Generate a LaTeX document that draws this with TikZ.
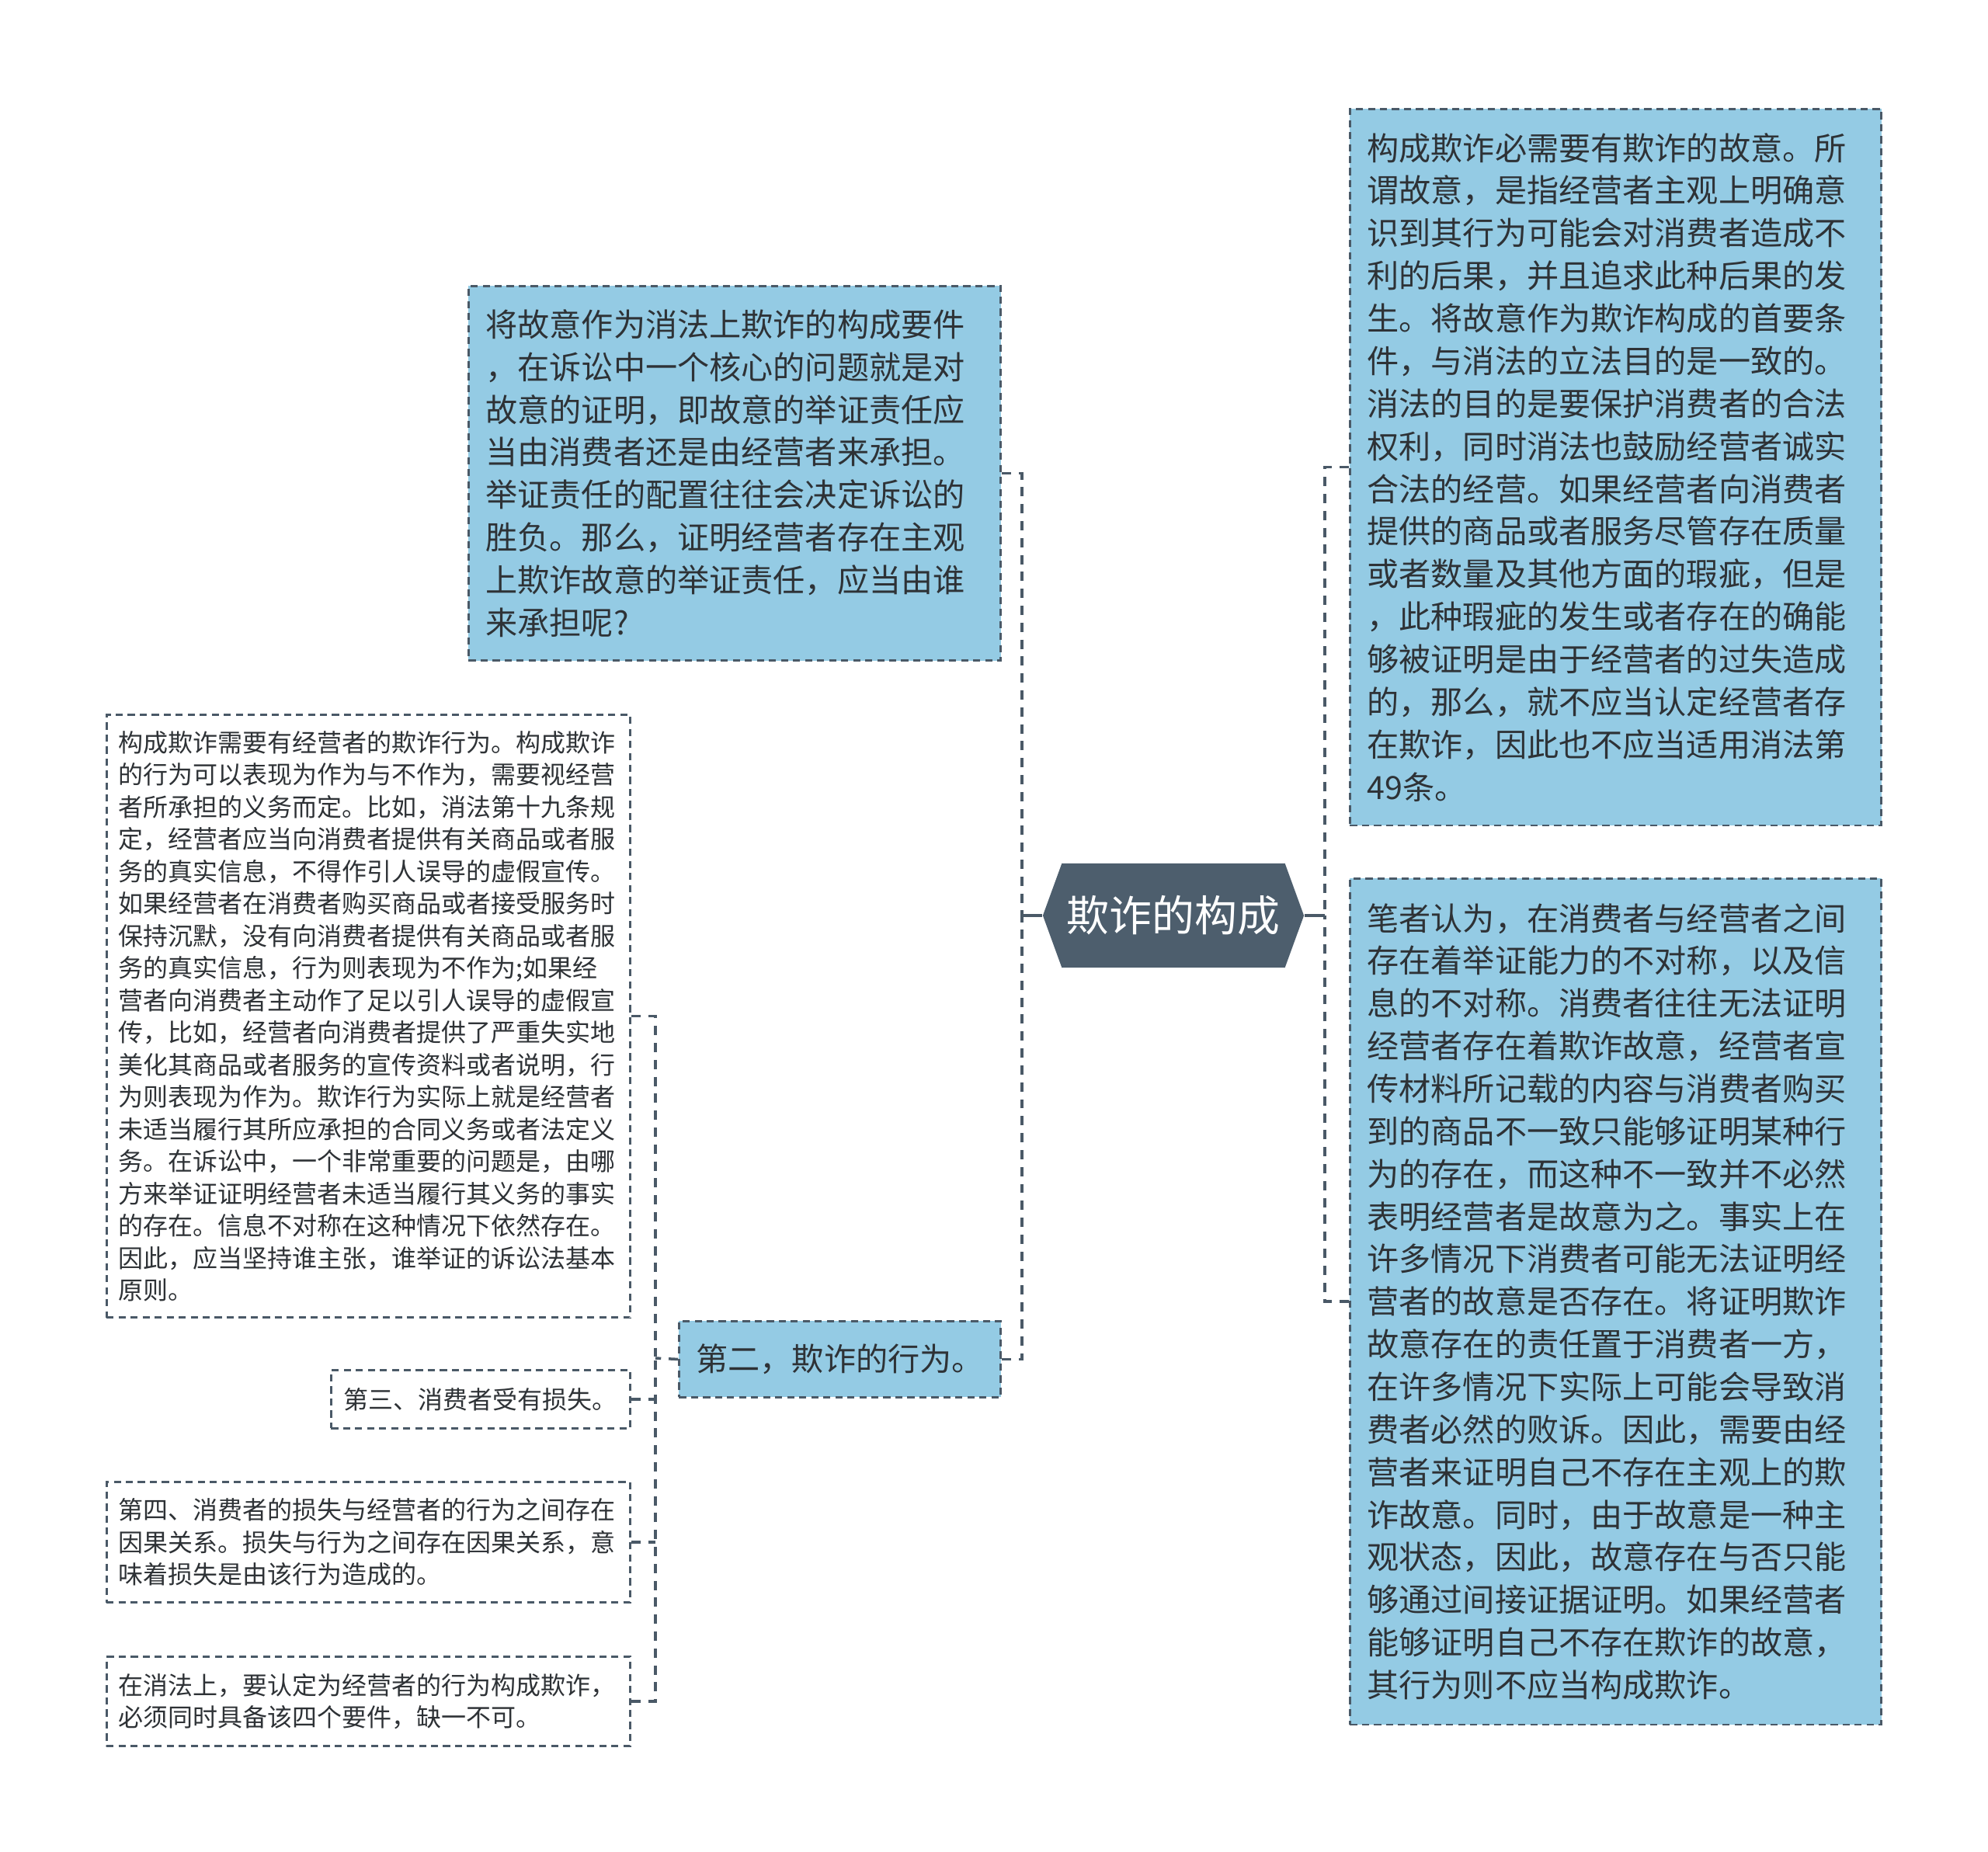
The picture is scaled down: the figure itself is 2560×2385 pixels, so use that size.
\documentclass[tikz,border=0pt]{standalone}
\usepackage{fontspec}
\usepackage{tikz}
\usetikzlibrary{shapes.symbols}

\newfontfamily\cjk{Noto Sans CJK SC}

\definecolor{boxblue}{HTML}{94CBE4}
\definecolor{edgegray}{HTML}{4A5967}
\definecolor{rootfill}{HTML}{4D5E6D}
\definecolor{txtgray}{HTML}{2E3236}

\begin{document}
\begin{tikzpicture}[x=0.01cm, y=-0.01cm,
    notebox/.style={draw=edgegray, line width=0.8pt, dash pattern=on 2.6pt off 1.8pt, text=txtgray, inner ysep=0pt},
    bluebox/.style={notebox, fill=boxblue, inner xsep=0.22cm, align=left, font=\cjk\fontsize{11.7}{15.6}\selectfont},
    whitebox/.style={notebox, fill=white, inner xsep=0.15cm, align=left, font=\cjk\fontsize{9.1}{11.8}\selectfont},
    rootnode/.style={signal, signal to=west and east, signal pointer angle=140, fill=rootfill, text=white,
        font=\cjk\fontsize{15.6}{18}\selectfont, minimum width=3.36cm, minimum height=1.34cm, inner sep=0pt},
    trunk/.style={edgegray, line width=1pt, dash pattern=on 3.4pt off 2.8pt},
    stub/.style={edgegray, line width=1.1pt}
]
    \useasboundingbox (0,0) rectangle (2560,2385);

    % centre
    \node[rootnode] (root) at (1511,1179) {欺诈的构成};

    % left side
    \node[bluebox, anchor=north west, minimum width=6.85cm, minimum height=4.82cm, text width=6.41cm] (q1) at (602,367) {%
        将故意作为消法上欺诈的构成要件\\
        ，在诉讼中一个核心的问题就是对\\
        故意的证明，即故意的举证责任应\\
        当由消费者还是由经营者来承担。\\
        举证责任的配置往往会决定诉讼的\\
        胜负。那么，证明经营者存在主观\\
        上欺诈故意的举证责任，应当由谁\\
        来承担呢?};

    \node[bluebox, anchor=north west, minimum width=4.14cm, minimum height=0.98cm, align=center] (act) at (873,1700) {第二，欺诈的行为。};

    \node[whitebox, anchor=north east, minimum width=6.74cm, minimum height=7.76cm, text width=6.44cm] (a1) at (813,919) {%
        构成欺诈需要有经营者的欺诈行为。构成欺诈\\
        的行为可以表现为作为与不作为，需要视经营\\
        者所承担的义务而定。比如，消法第十九条规\\
        定，经营者应当向消费者提供有关商品或者服\\
        务的真实信息，不得作引人误导的虚假宣传。\\
        如果经营者在消费者购买商品或者接受服务时\\
        保持沉默，没有向消费者提供有关商品或者服\\
        务的真实信息，行为则表现为不作为;如果经\\
        营者向消费者主动作了足以引人误导的虚假宣\\
        传，比如，经营者向消费者提供了严重失实地\\
        美化其商品或者服务的宣传资料或者说明，行\\
        为则表现为作为。欺诈行为实际上就是经营者\\
        未适当履行其所应承担的合同义务或者法定义\\
        务。在诉讼中，一个非常重要的问题是，由哪\\
        方来举证证明经营者未适当履行其义务的事实\\
        的存在。信息不对称在这种情况下依然存在。\\
        因此，应当坚持谁主张，谁举证的诉讼法基本\\
        原则。};

    \node[whitebox, anchor=north east, minimum width=3.85cm, minimum height=0.75cm, align=center] (a2) at (813,1763) {第三、消费者受有损失。};

    \node[whitebox, anchor=north east, minimum width=6.74cm, minimum height=1.55cm, text width=6.44cm] (a3) at (813,1907) {%
        第四、消费者的损失与经营者的行为之间存在\\
        因果关系。损失与行为之间存在因果关系，意\\
        味着损失是由该行为造成的。};

    \node[whitebox, anchor=north east, minimum width=6.74cm, minimum height=1.15cm, text width=6.44cm] (a4) at (813,2132) {%
        在消法上，要认定为经营者的行为构成欺诈，\\
        必须同时具备该四个要件，缺一不可。};

    % right side
    \node[bluebox, anchor=north west, minimum width=6.84cm, minimum height=9.22cm, text width=6.40cm] (r1) at (1737,139) {%
        构成欺诈必需要有欺诈的故意。所\\
        谓故意，是指经营者主观上明确意\\
        识到其行为可能会对消费者造成不\\
        利的后果，并且追求此种后果的发\\
        生。将故意作为欺诈构成的首要条\\
        件，与消法的立法目的是一致的。\\
        消法的目的是要保护消费者的合法\\
        权利，同时消法也鼓励经营者诚实\\
        合法的经营。如果经营者向消费者\\
        提供的商品或者服务尽管存在质量\\
        或者数量及其他方面的瑕疵，但是\\
        ，此种瑕疵的发生或者存在的确能\\
        够被证明是由于经营者的过失造成\\
        的，那么，就不应当认定经营者存\\
        在欺诈，因此也不应当适用消法第\\
        49条。};

    \node[bluebox, anchor=north west, minimum width=6.84cm, minimum height=10.89cm, text width=6.40cm] (r2) at (1737,1130) {%
        笔者认为，在消费者与经营者之间\\
        存在着举证能力的不对称，以及信\\
        息的不对称。消费者往往无法证明\\
        经营者存在着欺诈故意，经营者宣\\
        传材料所记载的内容与消费者购买\\
        到的商品不一致只能够证明某种行\\
        为的存在，而这种不一致并不必然\\
        表明经营者是故意为之。事实上在\\
        许多情况下消费者可能无法证明经\\
        营者的故意是否存在。将证明欺诈\\
        故意存在的责任置于消费者一方，\\
        在许多情况下实际上可能会导致消\\
        费者必然的败诉。因此，需要由经\\
        营者来证明自己不存在主观上的欺\\
        诈故意。同时，由于故意是一种主\\
        观状态，因此，故意存在与否只能\\
        够通过间接证据证明。如果经营者\\
        能够证明自己不存在欺诈的故意，\\
        其行为则不应当构成欺诈。};

    % connectors
    \coordinate (lj) at (1316,1179);
    \coordinate (rj) at (1706,1179);
    \coordinate (aj) at (844,1749);

    \draw[stub] (root.west) -- (lj);
    \draw[trunk] (q1.east) -| (lj);
    \draw[trunk] (act.east) -| (lj);

    \draw[stub] (root.east) -- (rj);
    \draw[trunk] (r1.west) -| (rj);
    \draw[trunk] (r2.west) -| (rj);

    \draw[trunk] (act.west) -- (aj);
    \draw[trunk] (a1.east) -| (aj);
    \draw[trunk] (a4.east) -| (aj);
    \draw[trunk] (a2.east) -- (a2.east -| aj);
    \draw[trunk] (a3.east) -- (a3.east -| aj);
\end{tikzpicture}
\end{document}
